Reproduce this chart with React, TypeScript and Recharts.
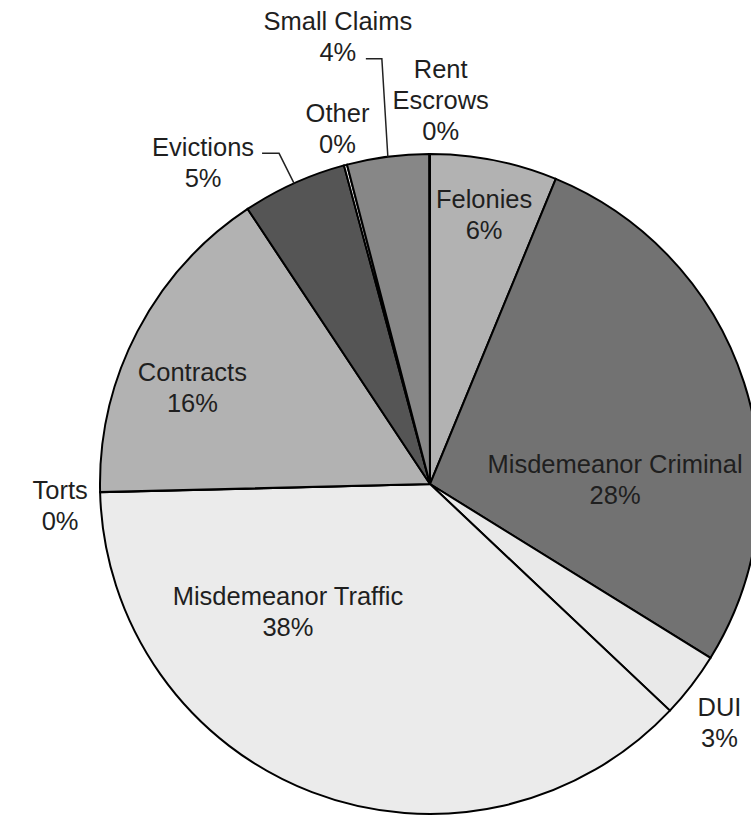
import { PieChart, Pie, Cell } from 'recharts'

// case types, clockwise from 12 o'clock
const CATEGORIES = [
  'Felonies',
  'Misdemeanor Criminal',
  'DUI',
  'Misdemeanor Traffic',
  'Torts',
  'Contracts',
  'Evictions',
  'Other',
  'Small Claims',
  'Rent Escrows',
]

// share of filings (%)
const SHARES = [6.2, 27.5, 3.2, 37.4, 0.02, 16.0, 5.1, 0.15, 4.0, 0.03]

const FILLS = [
  '#b2b2b2',
  '#727272',
  '#e9e9e9',
  '#ebebeb',
  '#cfcfcf',
  '#b2b2b2',
  '#555555',
  '#f2f2f2',
  '#878787',
  '#9a9a9a',
]

const data = CATEGORIES.map((name, i) => ({ name, value: SHARES[i] }))

const RADIAN = Math.PI / 180
const LINE_H = 31

// label placement relative to the point where the slice's mid angle meets the rim
const LABEL_LAYOUT: Record<
  string,
  { dx: number; dy: number; lines?: string[]; leader?: [number, number][] }
> = {
  Felonies: { dx: -10, dy: 48 },
  'Misdemeanor Criminal': { dx: -129, dy: 90 },
  DUI: { dx: 28, dy: 31 },
  'Misdemeanor Traffic': { dx: -24, dy: -187 },
  Torts: { dx: -40, dy: 7 },
  Contracts: { dx: 55, dy: 50 },
  Evictions: {
    dx: -91,
    dy: -27,
    leader: [
      [0, 0],
      [-15, -30],
      [-32, -30],
    ],
  },
  Other: { dx: -8, dy: -43 },
  'Small Claims': {
    dx: -50,
    dy: -127,
    leader: [
      [0, 0],
      [-6, -98],
      [-22, -98],
    ],
  },
  'Rent Escrows': { dx: 11, dy: -76, lines: ['Rent', 'Escrows'] },
}

// eslint-disable-next-line @typescript-eslint/no-explicit-any
function renderLabel(props: any) {
  const { cx, cy, midAngle, outerRadius, name, percent } = props
  const px = cx + outerRadius * Math.cos(-midAngle * RADIAN)
  const py = cy + outerRadius * Math.sin(-midAngle * RADIAN)
  const layout = LABEL_LAYOUT[name] ?? { dx: 0, dy: 0 }
  const lines = [...(layout.lines ?? [name]), `${Math.round(percent * 100)}%`]
  const x = px + layout.dx
  const y = py + layout.dy
  return (
    <g key={name}>
      {layout.leader && (
        <polyline
          points={layout.leader.map(([lx, ly]) => `${px + lx},${py + ly}`).join(' ')}
          fill="none"
          stroke="#222"
          strokeWidth={1.5}
        />
      )}
      <text
        x={x}
        y={y}
        textAnchor="middle"
        fill="#1f1f1f"
        fontSize={25.5}
        fontFamily="'Liberation Sans', Arial, sans-serif"
      >
        {lines.map((line, i) => (
          <tspan key={i} x={x} y={y + i * LINE_H}>
            {line}
          </tspan>
        ))}
      </text>
    </g>
  )
}

export default function App() {
  return (
    <div style={{ position: 'absolute', left: 0, top: 0, background: '#fff' }}>
      <PieChart width={751} height={816} margin={{ top: 0, right: 0, bottom: 0, left: 0 }}>
        <Pie
          data={data}
          dataKey="value"
          nameKey="name"
          cx={430}
          cy={484}
          outerRadius={330}
          startAngle={90}
          endAngle={-270}
          stroke="#000"
          strokeWidth={2}
          labelLine={false}
          label={renderLabel}
          isAnimationActive={false}
        >
          {data.map((_, i) => (
            <Cell key={i} fill={FILLS[i]} />
          ))}
        </Pie>
      </PieChart>
    </div>
  )
}
